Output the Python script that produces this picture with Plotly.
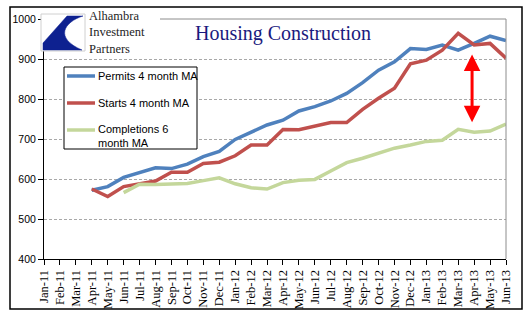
import plotly.graph_objects as go

months = ["Jan-11","Feb-11","Mar-11","Apr-11","May-11","Jun-11","Jul-11","Aug-11","Sep-11","Oct-11",
          "Nov-11","Dec-11","Jan-12","Feb-12","Mar-12","Apr-12","May-12","Jun-12","Jul-12","Aug-12",
          "Sep-12","Oct-12","Nov-12","Dec-12","Jan-13","Feb-13","Mar-13","Apr-13","May-13","Jun-13"]

permits = [None, None, None, 572, 581, 604, 615, 628, 626, 637, 656, 669, 699, 716, 735, 747, 770,
           781, 795, 814, 841, 872, 893, 926, 924, 935, 922, 939, 957, 946]
starts = [None, None, None, 575, 556, 581, 589, 595, 617, 617, 639, 642, 658, 685, 685, 724, 723,
          732, 741, 741, 774, 802, 827, 888, 897, 922, 964, 935, 939, 902]
completions = [None, None, None, None, None, 566, 587, 586, 587, 589, 596, 603, 588, 578, 575, 591,
               597, 599, 620, 641, 652, 664, 677, 685, 694, 697, 724, 717, 720, 737]

series_names = ["Permits 4 month MA", "Starts 4 month MA", "Completions 6<br>month MA"]
series_colors = ["#4F81BD", "#C0504D", "#C4D79B"]
y_ticks = [400, 500, 600, 700, 800, 900, 1000]

# plot-area pixel geometry
L, R, T, B = 44, 506, 19, 259
W, H = 532, 321


def px(x):
    return (x - L) / (R - L)


def py(y):
    return (B - y) / (B - T)


fig = go.Figure()
for name, vals, col in zip(series_names, [permits, starts, completions], series_colors):
    fig.add_trace(go.Scatter(x=months, y=vals, mode="lines", name=name,
                             line=dict(color=col, width=3.5), connectgaps=False,
                             showlegend=False, hoverinfo="skip"))

shapes = []
# outer frame
shapes.append(dict(type="rect", xref="paper", yref="paper", x0=px(10), x1=px(522), y0=py(309), y1=py(7),
                   line=dict(color="black", width=1.5), fillcolor="rgba(0,0,0,0)", layer="below"))
# plot area top / right border (gray)
shapes.append(dict(type="line", xref="paper", yref="paper", x0=px(160), x1=1, y0=1, y1=1,
                   line=dict(color="#8C8C8C", width=1)))
shapes.append(dict(type="line", xref="paper", yref="paper", x0=1, x1=1, y0=0, y1=1,
                   line=dict(color="#8C8C8C", width=1)))
# logo box
shapes.append(dict(type="rect", xref="paper", yref="paper", x0=px(41), x1=px(85), y0=py(51), y1=py(14),
                   line=dict(color="#D0D0D0", width=1), fillcolor="white"))
logo_pts = f"M {px(67)},{py(16)} L {px(83)},{py(16)} C {px(64)},{py(22)} {px(54)},{py(38)} {px(82)},{py(50)} " \
           f"L {px(43)},{py(50)} L {px(43)},{py(43)} Z"
shapes.append(dict(type="path", xref="paper", yref="paper", path=logo_pts,
                   fillcolor="#0E2190", line=dict(color="#0E2190", width=0.5)))
# legend box
shapes.append(dict(type="rect", xref="paper", yref="paper", x0=px(64), x1=px(197), y0=py(149), y1=py(67),
                   line=dict(color="black", width=1), fillcolor="white"))
legend_y = [76, 103, 130]
for ly, col in zip(legend_y, series_colors):
    shapes.append(dict(type="line", xref="paper", yref="paper", x0=px(67), x1=px(95), y0=py(ly), y1=py(ly),
                       line=dict(color=col, width=3.5)))

annotations = []
annotations.append(dict(text="Housing Construction", xref="paper", yref="paper", x=px(283), y=py(33),
                        showarrow=False, xanchor="center", yanchor="middle",
                        font=dict(family="Liberation Serif", size=20, color="#1A1A7E")))
annotations.append(dict(text="Alhambra<br>Investment<br>Partners", xref="paper", yref="paper",
                        x=px(87), y=py(32), showarrow=False, xanchor="left", yanchor="middle", align="left",
                        font=dict(family="Liberation Serif", size=12.5, color="#1E1E1E")))
leg_text_y = [76, 103, 136]
for name, yy in zip(series_names, leg_text_y):
    annotations.append(dict(text=name, xref="paper", yref="paper", x=px(96), y=py(yy), showarrow=False,
                            xanchor="left", yanchor="middle", align="left",
                            font=dict(family="Liberation Sans", size=11, color="black")))
# red double arrow
annotations.append(dict(x=26.87, y=742, ax=26.87, ay=915, xref="x", yref="y", axref="x", ayref="y",
                        text="", showarrow=True, arrowhead=2, startarrowhead=2, arrowside="end+start",
                        arrowsize=1.1, startarrowsize=1.1, arrowwidth=3, arrowcolor="#FF0000"))

fig.update_layout(
    width=W, height=H, autosize=False,
    margin=dict(l=L, r=W - R, t=T, b=H - B, pad=0),
    paper_bgcolor="white", plot_bgcolor="white",
    shapes=shapes, annotations=annotations, showlegend=False,
    xaxis=dict(type="category", categoryorder="array", categoryarray=months,
               range=[0, len(months) - 1], tickmode="array", tickvals=months, ticktext=months,
               tickangle=-90, ticks="outside", ticklen=5, tickcolor="black",
               showline=True, linecolor="black", linewidth=1, showgrid=False, zeroline=False,
               tickfont=dict(family="Liberation Serif", size=12.5, color="black")),
    yaxis=dict(range=[400, 1000], tickmode="array", tickvals=y_ticks, ticks="outside", ticklen=5,
               tickcolor="black", showline=True, linecolor="black", linewidth=1,
               showgrid=True, gridcolor="#A8A8A8", griddash="3px,2px", gridwidth=1, zeroline=False,
               tickfont=dict(family="Liberation Sans", size=10.5, color="black")),
)

fig.write_html("out.html")
